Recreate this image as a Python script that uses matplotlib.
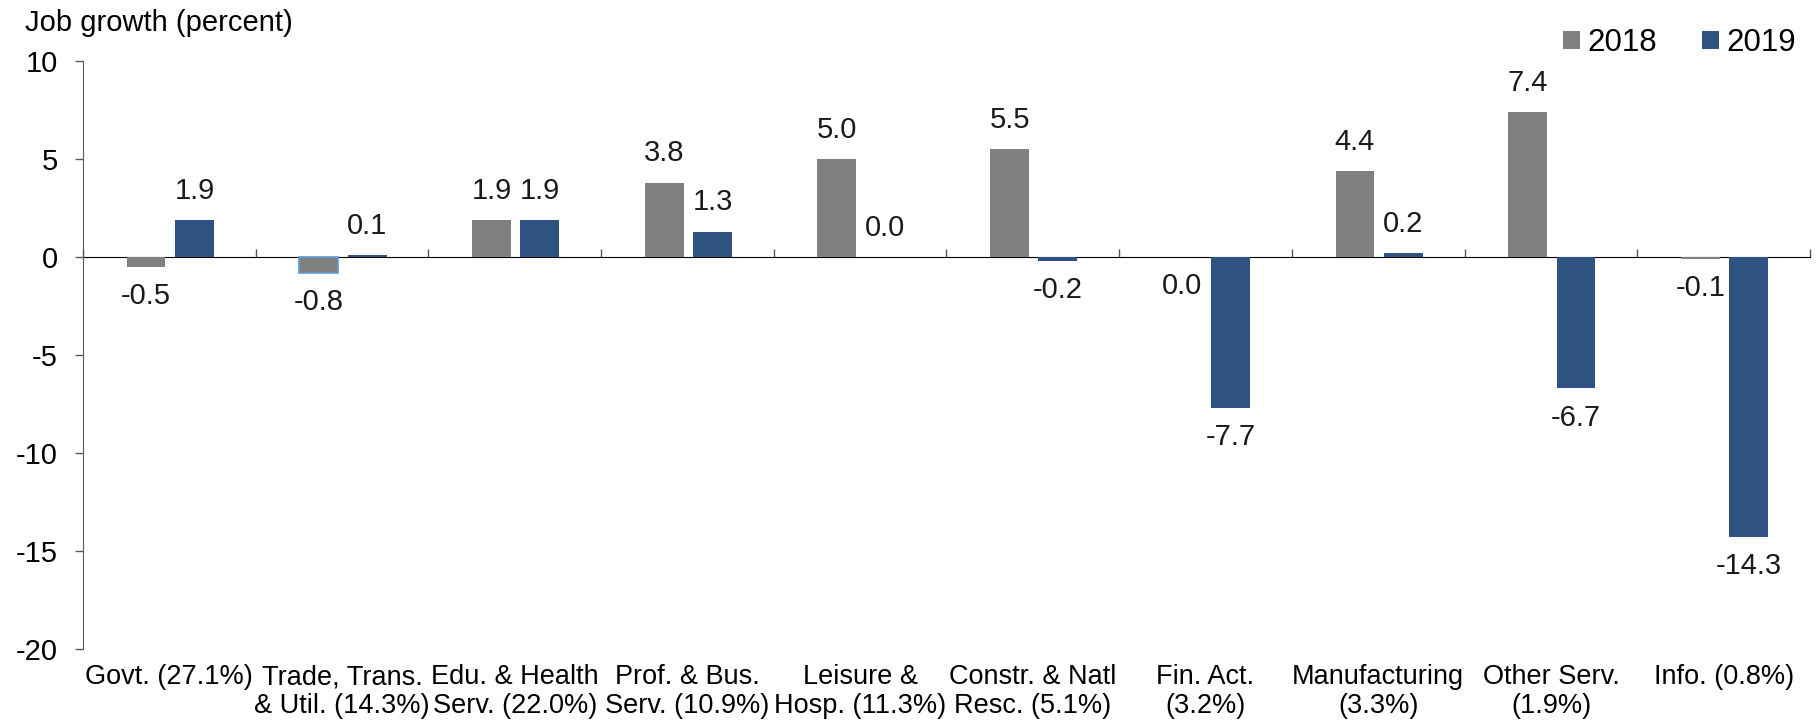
import matplotlib.pyplot as plt
import numpy as np

plt.rcParams['font.family'] = ['Liberation Sans', 'DejaVu Sans']
plt.rcParams['axes.unicode_minus'] = False

# Job growth by sector (percent), sector share in parentheses
sectors = ["Govt. (27.1%)", "Trade, Trans.\n& Util. (14.3%)", "Edu. & Health\nServ. (22.0%)",
           "Prof. & Bus.\nServ. (10.9%)", "Leisure &\nHosp. (11.3%)", "Constr. & Natl\nResc. (5.1%)",
           "Fin. Act.\n(3.2%)", "Manufacturing\n(3.3%)", "Other Serv.\n(1.9%)", "Info. (0.8%)"]
growth_2018 = [-0.5, -0.8, 1.9, 3.8, 5.0, 5.5, 0.0, 4.4, 7.4, -0.1]
growth_2019 = [1.9, 0.1, 1.9, 1.3, 0.0, -0.2, -7.7, 0.2, -6.7, -14.3]

gray = '#808080'
blue = '#2F5380'

fig = plt.figure(figsize=(18.16, 7.26), dpi=100)
ax = fig.add_axes([0.0457, 0.106, 0.951, 0.81])

x = np.arange(len(sectors))
w = 0.225
b18 = ax.bar(x - 0.135, growth_2018, w, color=gray, label='2018')
b19 = ax.bar(x + 0.145, growth_2019, w, color=blue, label='2019')
b18[1].set_edgecolor('#5B9BD5')
b18[1].set_linewidth(1.2)


def put_labels(bars, vals, others):
    for bar, v, o in zip(bars, vals, others):
        up = v > 0 or (v == 0 and o >= 0)
        ax.annotate(f"{v:.1f}", (bar.get_x() + bar.get_width() / 2, v),
                    xytext=(0, 21 if up else -21), textcoords='offset points',
                    ha='center', va='center', fontsize=21, color='#1a1a1a')


put_labels(b18, growth_2018, growth_2019)
put_labels(b19, growth_2019, growth_2018)

ax.set_xlim(-0.5, len(sectors) - 0.5)
ax.set_ylim(-20, 10)
ax.set_yticks(np.arange(-20, 11, 5))
ax.tick_params(axis='y', labelsize=21, length=6, width=1, color='#595959', pad=12)

ax.set_xticks(x)
ax.set_xticklabels(sectors, fontsize=19.5, linespacing=1.15)
ax.tick_params(axis='x', length=0, pad=11)

for s in ['top', 'right', 'bottom']:
    ax.spines[s].set_visible(False)
ax.spines['left'].set_color('#595959')

# zero line with category boundary ticks
zero = ax.secondary_xaxis(2 / 3)
zero.set_xticks(np.arange(-0.5, len(sectors), 1.0))
zero.set_xticklabels([])
zero.tick_params(axis='x', direction='out', length=6, width=1, color='#595959')
zero.spines['bottom'].set_color('#595959')

fig.text(0.014, 0.988, "Job growth (percent)", fontsize=21, va='top', ha='left')

ax.legend(loc='center right', bbox_to_anchor=(0.989, 0.941), bbox_transform=fig.transFigure,
          ncol=2, frameon=False, fontsize=22.5, handlelength=0.52, handleheight=0.52,
          handletextpad=0.25, columnspacing=1.45, borderpad=0, borderaxespad=0)

fig.savefig('out.png', dpi=100)
